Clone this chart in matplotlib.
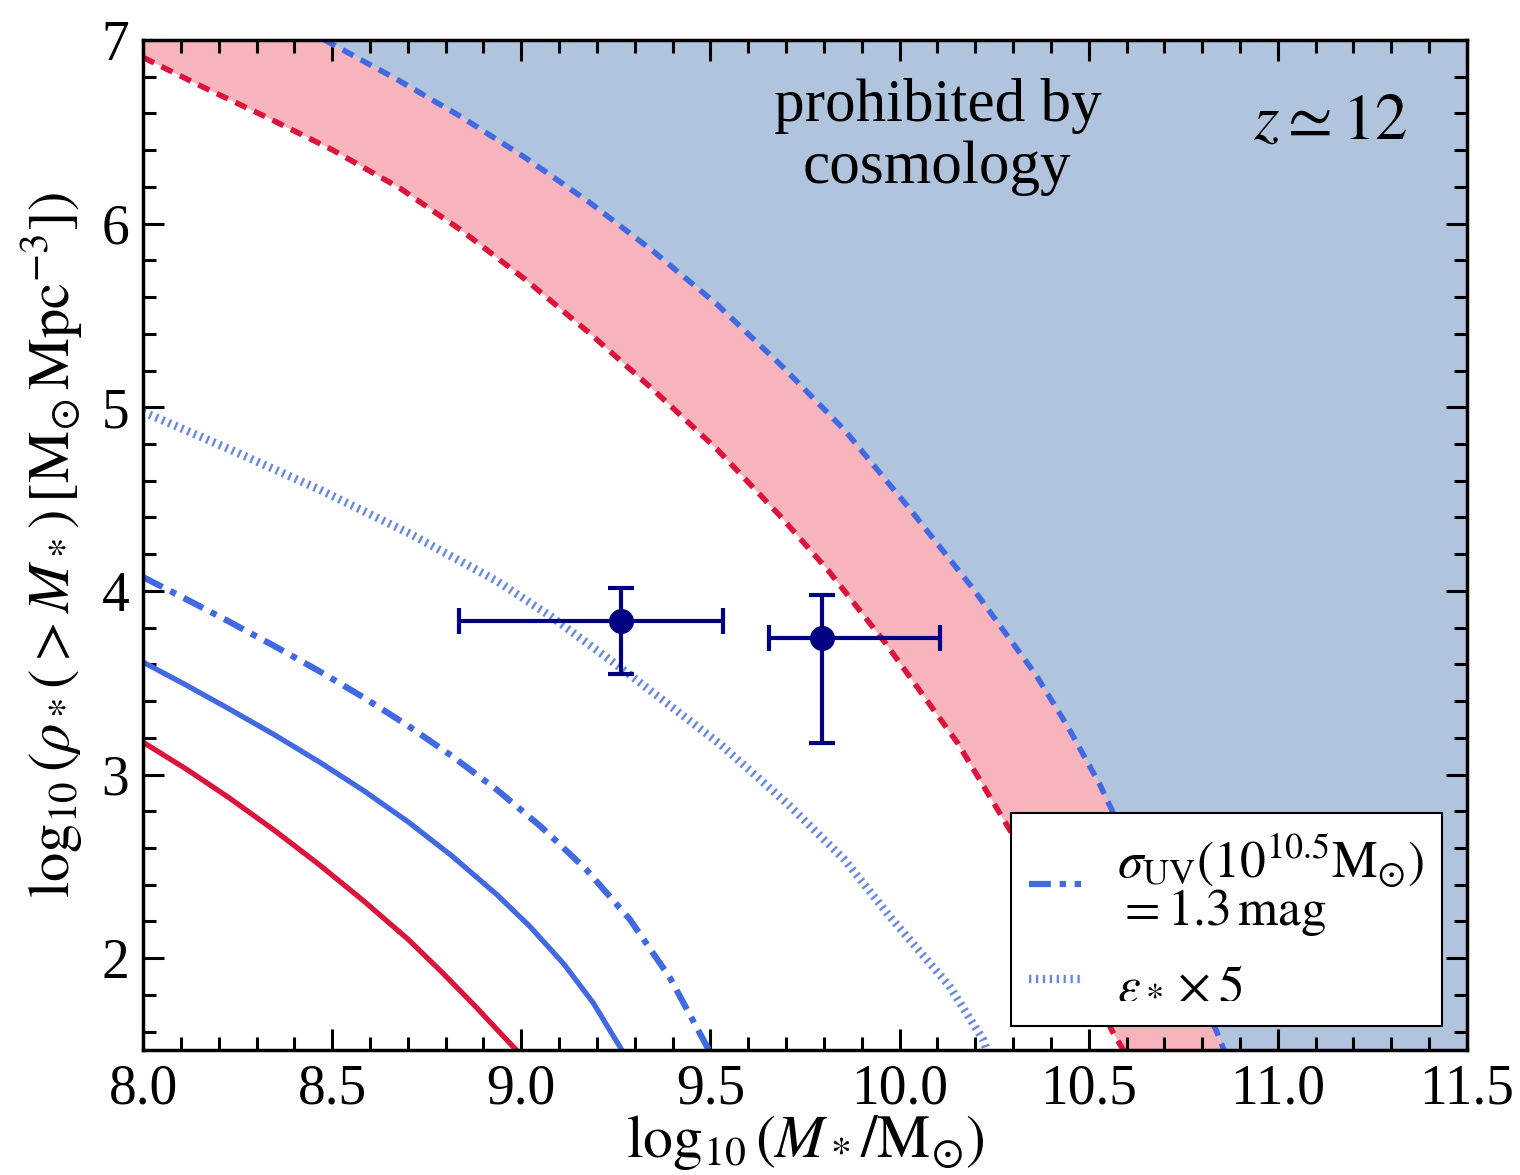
import matplotlib.pyplot as plt
from matplotlib.ticker import MultipleLocator

plt.rcParams["font.family"] = "serif"
plt.rcParams["font.serif"] = ["Liberation Serif", "DejaVu Serif"]
plt.rcParams["mathtext.fontset"] = "stix"

# cosmological limit (upper edge of pink band)
cosmo_x = [8.480, 8.674, 8.843, 9.011, 9.180, 9.349, 9.517, 9.686, 9.854,
           10.023, 10.192, 10.360, 10.444, 10.529, 10.837, 10.866]
cosmo_y = [7.000, 6.782, 6.579, 6.358, 6.116, 5.849, 5.561, 5.230, 4.877,
           4.456, 4.018, 3.544, 3.263, 2.947, 1.607, 1.456]

# lower edge of pink band
band_x = [8.000, 8.150, 8.327, 8.502, 8.679, 8.843, 9.011, 9.180, 9.349, 9.517,
          9.686, 9.811, 9.961, 10.154, 10.291, 10.428, 10.561, 10.600]
band_y = [6.905, 6.752, 6.579, 6.400, 6.193, 5.961, 5.695, 5.404, 5.095, 4.772,
          4.404, 4.112, 3.720, 3.170, 2.700, 2.193, 1.607, 1.470]

# eps x 5 (dotted)
eps_x = [8.000, 8.228, 8.464, 8.701, 8.936, 9.079, 9.264, 9.526, 9.703, 9.854,
         9.977, 10.131, 10.220, 10.234]
eps_y = [4.975, 4.772, 4.554, 4.316, 4.053, 3.860, 3.579, 3.165, 2.842, 2.537,
         2.220, 1.850, 1.560, 1.480]

# sigma_UV = 1.3 mag (dash-dot)
sig_x = [8.000, 8.114, 8.227, 8.346, 8.464, 8.582, 8.701, 8.817, 8.936, 9.052,
         9.171, 9.287, 9.393, 9.496, 9.507]
sig_y = [4.075, 3.955, 3.833, 3.701, 3.565, 3.421, 3.265, 3.100, 2.916, 2.716,
         2.484, 2.211, 1.893, 1.499, 1.460]

# fiducial models
blue_x = [8.000, 8.114, 8.227, 8.346, 8.464, 8.582, 8.701, 8.817, 8.936, 9.023,
          9.113, 9.190, 9.266, 9.277]
blue_y = [3.612, 3.487, 3.358, 3.218, 3.071, 2.914, 2.742, 2.556, 2.345, 2.172,
          1.967, 1.757, 1.499, 1.461]
red_x = [8.000, 8.114, 8.227, 8.346, 8.464, 8.582, 8.701, 8.788, 8.878, 8.936,
         8.989, 8.999]
red_y = [3.176, 3.030, 2.874, 2.698, 2.512, 2.314, 2.102, 1.928, 1.739, 1.611,
         1.495, 1.472]

# observed points
obs_x = [9.264, 9.794]
obs_y = [3.837, 3.741]
obs_xlo = [8.836, 9.656]
obs_xhi = [9.532, 10.107]
obs_ylo = [3.545, 3.173]
obs_yhi = [4.014, 3.977]

XMIN, XMAX, YMIN, YMAX = 8.0, 11.5, 1.5, 7.0

BLUE = "#4169e1"
RED = "#dc143c"
NAVY = "#000080"
BLUE_FILL = "#b0c4de"
PINK_FILL = "#f8b4bc"

fig = plt.figure(figsize=(15.2, 11.75), dpi=100)
ax = fig.add_axes([0.0941, 0.1064, 0.871, 0.8596])

# shaded regions
ax.fill(cosmo_x + [XMAX, XMAX], cosmo_y + [YMIN, YMAX],
        color=BLUE_FILL, lw=0, zorder=0)
ax.fill(band_x + cosmo_x[::-1] + [XMIN], band_y + cosmo_y[::-1] + [YMAX],
        color=PINK_FILL, lw=0, zorder=0)

ax.plot(cosmo_x, cosmo_y, color=BLUE, lw=4, dashes=(2.2, 1.5), zorder=2)
ax.plot(band_x, band_y, color=RED, lw=4, dashes=(2.2, 1.5), zorder=2)

ax.plot(red_x, red_y, color=RED, lw=3.8, zorder=2)
ax.plot(blue_x, blue_y, color=BLUE, lw=3.8, zorder=2)
ax.plot(sig_x, sig_y, color=BLUE, lw=4.5, dashes=(3.5, 1.4, 1.0, 1.4), zorder=2,
        label="$\\sigma_{\\rm UV}(10^{10.5}{\\rm M}_{\\odot})$\n$= 1.3\\,{\\rm mag}$")
ax.plot(eps_x, eps_y, color=BLUE, alpha=0.8, lw=6, dashes=(0.28, 0.55),
        dash_capstyle="butt", zorder=2, label="$\\varepsilon_* \\times 5$")

xerr = [[x - lo for x, lo in zip(obs_x, obs_xlo)], [hi - x for x, hi in zip(obs_x, obs_xhi)]]
yerr = [[y - lo for y, lo in zip(obs_y, obs_ylo)], [hi - y for y, hi in zip(obs_y, obs_yhi)]]
ax.errorbar(obs_x, obs_y, xerr=xerr, yerr=yerr, fmt="o", color=NAVY, ms=17,
            elinewidth=3, capsize=9.5, capthick=3, zorder=4)

ax.text(10.10, 6.47, "prohibited by\ncosmology", fontsize=44, ha="center",
        va="center", linespacing=1.15)
ax.text(11.14, 6.55, "$z \\simeq 12$", fontsize=47, ha="center", va="center")

ax.set_xlim(XMIN, XMAX)
ax.set_ylim(YMIN, YMAX)
ax.xaxis.set_major_locator(MultipleLocator(0.5))
ax.xaxis.set_minor_locator(MultipleLocator(0.1))
ax.yaxis.set_major_locator(MultipleLocator(1))
ax.yaxis.set_minor_locator(MultipleLocator(0.2))
ax.xaxis.set_major_formatter(lambda v, p: f"{v:.1f}")
ax.yaxis.set_major_formatter(lambda v, p: f"{v:.0f}")
ax.tick_params(which="both", direction="in", top=True, right=True, width=2.2,
               labelsize=40, pad=10)
ax.tick_params(which="major", length=15)
ax.tick_params(which="minor", length=9.5)
for spine in ax.spines.values():
    spine.set_linewidth(2.5)
    spine.set_zorder(5)

ax.set_xlabel("$\\log_{10}(M_*/{\\rm M}_{\\odot})$", fontsize=43, labelpad=-2)
ax.set_ylabel("$\\log_{10}(\\rho_*(>M_*)\\,[{\\rm M}_{\\odot}\\,{\\rm Mpc}^{-3}])$",
              fontsize=42, labelpad=12)

leg = ax.legend(loc="lower right", bbox_to_anchor=(0.981, 0.024), fontsize=37,
                frameon=True, fancybox=False, framealpha=1, edgecolor="black",
                handlelength=1.0, handletextpad=0.7, borderpad=0.35,
                labelspacing=0.45, borderaxespad=0)
leg.get_frame().set_linewidth(1.5)
leg.set_zorder(6)
for t in leg.get_texts():
    t.set_linespacing(0.95)

fig.savefig("out.png", dpi=100)
